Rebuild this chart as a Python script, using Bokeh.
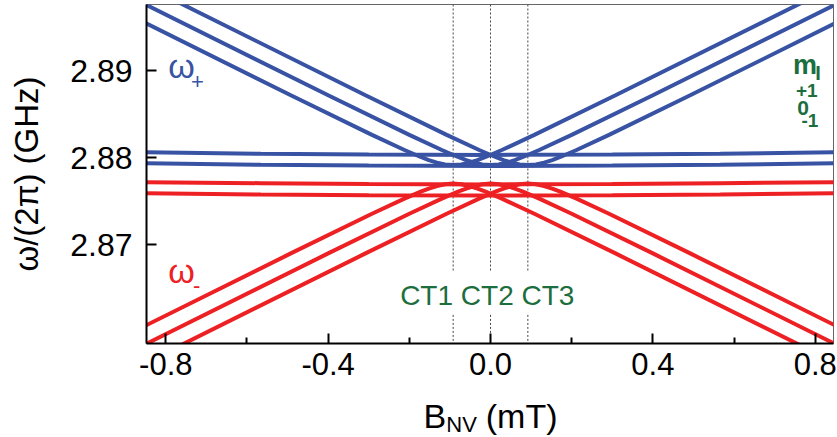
from bokeh.plotting import figure
from bokeh.models import Range1d, FixedTicker, Label, NumeralTickFormatter
from bokeh.layouts import column
from bokeh.embed import file_html
from bokeh.resources import INLINE

# ---------------- data ----------------
x_ticks = [-0.8, -0.4, 0.0, 0.4, 0.8]
x_minor = [-0.6, -0.2, 0.2, 0.6]
y_ticks = [2.87, 2.88, 2.89]

ct_b = [-0.092, 0.0, 0.092]          # crossing positions CT1..CT3 (mT)

# omega_+ / omega_- anticrossing branches, one per nuclear spin state
hyp_b_ct1 = [-1.092, -0.492, -0.292, -0.212, -0.172, -0.152, -0.132, -0.112, -0.092,
             -0.072, -0.052, -0.032, -0.012, 0.028, 0.108, 0.308, 0.908]
hyp_b_ct2 = [-1.0, -0.4, -0.2, -0.12, -0.08, -0.06, -0.04, -0.02, 0.0,
             0.02, 0.04, 0.06, 0.08, 0.12, 0.2, 0.4, 1.0]
hyp_b_ct3 = [-0.908, -0.308, -0.108, -0.028, 0.012, 0.032, 0.052, 0.072, 0.092,
             0.112, 0.132, 0.152, 0.172, 0.212, 0.292, 0.492, 1.092]
blue_w = [2.90107, 2.88715, 2.88260, 2.88086, 2.88006, 2.87971, 2.87941, 2.87921, 2.87913,
          2.87921, 2.87941, 2.87971, 2.88006, 2.88086, 2.88260, 2.88715, 2.90107]
red_w = [2.85506, 2.86898, 2.87353, 2.87527, 2.87607, 2.87642, 2.87672, 2.87692, 2.87700,
         2.87692, 2.87672, 2.87642, 2.87607, 2.87527, 2.87353, 2.86898, 2.85506]

# nearly flat branches
flat_b = [-0.9, -0.566, -0.3, 0.0, 0.3, 0.566, 0.9]
blue_flat_hi = [2.88063, 2.88043, 2.88034, 2.88030, 2.88034, 2.88043, 2.88063]
blue_flat_lo = [2.87938, 2.87917, 2.87908, 2.87903, 2.87908, 2.87917, 2.87938]
red_flat_hi = [2.87718, 2.87705, 2.87695, 2.87691, 2.87695, 2.87705, 2.87718]
red_flat_lo = [2.87592, 2.87575, 2.87567, 2.87562, 2.87567, 2.87575, 2.87592]

ct_text = "CT1 CT2 CT3"
mi_title = ["m", "I"]
mi_labels = ["+1", "0", "-1"]

BLUE = "#3953a4"
RED = "#ed2024"
GREEN = "#1d6e3e"
FONT = "Liberation Sans"

W = 837
xr = Range1d(-0.8475, 0.845)
p = figure(width=W, height=390, output_backend="svg", toolbar_location=None,
           x_range=xr, y_range=Range1d(2.85862, 2.89759),
           min_border_left=146, min_border_right=4, min_border_top=4, min_border_bottom=47)
p.xgrid.visible = False
p.ygrid.visible = False
p.background_fill_color = "white"
p.border_fill_color = "white"
p.outline_line_color = "#666666"
p.outline_line_width = 1

# axes
p.xaxis.ticker = FixedTicker(ticks=x_ticks, minor_ticks=x_minor)
p.yaxis.ticker = FixedTicker(ticks=y_ticks, minor_ticks=[])
p.xaxis.formatter = NumeralTickFormatter(format="0.0")
p.yaxis.formatter = NumeralTickFormatter(format="0.00")
for ax in (p.xaxis, p.yaxis):
    ax.axis_line_width = 2
    ax.axis_line_color = "black"
    ax.major_tick_in = 10
    ax.major_tick_out = 0
    ax.minor_tick_in = 6
    ax.minor_tick_out = 0
    ax.major_tick_line_width = 2
    ax.minor_tick_line_width = 2
    ax.major_label_text_font = FONT
    ax.major_label_text_color = "black"
p.yaxis.major_label_text_font_size = "32px"
p.xaxis.major_label_text_font_size = "31px"
p.yaxis.major_label_standoff = 14
p.xaxis.major_label_standoff = 9
p.yaxis.axis_label = "ω/(2π) (GHz)"
p.yaxis.axis_label_text_font = FONT
p.yaxis.axis_label_text_font_size = "33px"
p.yaxis.axis_label_text_font_style = "normal"
p.yaxis.axis_label_text_color = "black"
p.yaxis.axis_label_standoff = 22

# dotted guide lines at the crossings (interrupted around the CT labels)
for b in ct_b:
    p.line([b, b], [2.8580, 2.86195], line_color="#444444", line_width=1, line_dash="2 2")
    p.line([b, b], [2.86701, 2.8990], line_color="#444444", line_width=1, line_dash="2 2")

# curves
for hb in (hyp_b_ct1, hyp_b_ct2, hyp_b_ct3):
    p.line(hb, blue_w, line_color=BLUE, line_width=4)
    p.line(hb, red_w, line_color=RED, line_width=4)
p.line(flat_b, blue_flat_hi, line_color=BLUE, line_width=4)
p.line(flat_b, blue_flat_lo, line_color=BLUE, line_width=4)
p.line(flat_b, red_flat_hi, line_color=RED, line_width=4)
p.line(flat_b, red_flat_lo, line_color=RED, line_width=4)


def lab(fig, x, y, t, size, color, align="left", style="normal"):
    fig.add_layout(Label(x=x, y=y, text=t, text_font=FONT, text_font_size=size,
                         text_color=color, text_align=align, text_font_style=style,
                         text_baseline="alphabetic"))


# omega labels
lab(p, -0.794, 2.89052, "ω", "34px", BLUE)
lab(p, -0.738, 2.88876, "+", "22px", BLUE)
lab(p, -0.794, 2.86695, "ω", "34px", RED)
lab(p, -0.733, 2.86524, "-", "22px", RED)

# CT labels
lab(p, -0.008, 2.86412, ct_text, "28px", GREEN, align="center")

# m_I legend
lab(p, 0.745, 2.89064, mi_title[0], "27px", GREEN, style="bold")
lab(p, 0.800, 2.88972, mi_title[1], "20px", GREEN, style="bold")
lab(p, 0.779, 2.88774, mi_labels[0], "19px", GREEN, align="center", style="bold")
lab(p, 0.770, 2.88574, mi_labels[1], "21px", GREEN, align="center", style="bold")
lab(p, 0.787, 2.88426, mi_labels[2], "19px", GREEN, align="center", style="bold")

# x axis title (with subscript) in a strip below, sharing the x range
p2 = figure(width=W, height=46, output_backend="svg", toolbar_location=None,
            x_range=xr, y_range=Range1d(0, 46), x_axis_type=None, y_axis_type=None,
            min_border_left=146, min_border_right=4, min_border_top=0, min_border_bottom=0)
p2.xgrid.visible = False
p2.ygrid.visible = False
p2.outline_line_color = None
p2.background_fill_color = "white"
p2.border_fill_color = "white"
lab(p2, -0.165, 20.5, "B", "34px", "black")
lab(p2, -0.109, 12.5, "NV", "22px", "black")
lab(p2, -0.0116, 20.5, "(mT)", "34px", "black")

layout = column(p, p2, spacing=0)
open("out.html", "w").write(file_html(layout, INLINE))
